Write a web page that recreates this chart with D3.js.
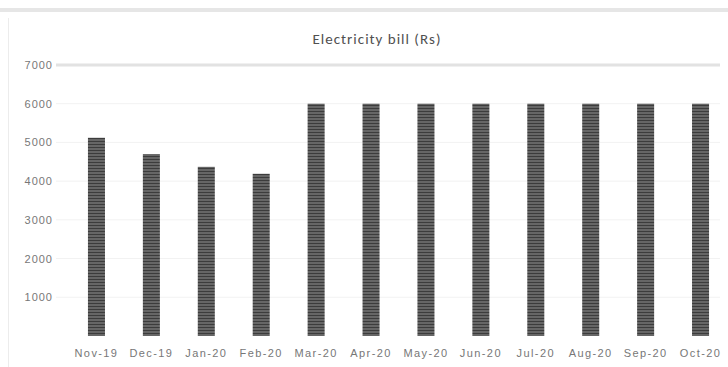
<!DOCTYPE html>
<html>
<head>
<meta charset="utf-8">
<script src="https://cdn.jsdelivr.net/npm/d3@7"></script>
<style>
  html, body { margin: 0; padding: 0; background: #fff; }
  svg { display: block; font-family: Calibri, Carlito, "Liberation Sans", "DejaVu Sans", sans-serif; }
</style>
</head>
<body>
<svg id="chart" width="728" height="367"></svg>
<script>
// Monthly electricity bill (Rs)
const months = ["Nov-19", "Dec-19", "Jan-20", "Feb-20", "Mar-20", "Apr-20",
                "May-20", "Jun-20", "Jul-20", "Aug-20", "Sep-20", "Oct-20"];
const bills = [5120, 4700, 4370, 4190, 6000, 6000, 6000, 6000, 6000, 6000, 6000, 6000];
const yTicks = [1000, 2000, 3000, 4000, 5000, 6000, 7000];
const chartTitle = "Electricity bill (Rs)";

const svg = d3.select("#chart");
const W = 728, H = 367;
const margin = { top: 65, right: 0, bottom: 31, left: 69 };

// frame of the chart area
svg.append("rect").attr("x", 0).attr("y", 8).attr("width", W).attr("height", 4).attr("fill", "#e6e6e6");
svg.append("line").attr("x1", 8.5).attr("x2", 8.5).attr("y1", 18).attr("y2", H).attr("stroke", "#ececec").attr("stroke-width", 1);

// striped bar fill
const defs = svg.append("defs");
const pat = defs.append("pattern").attr("id", "stripes").attr("patternUnits", "userSpaceOnUse")
  .attr("width", 6).attr("height", 3);
pat.append("rect").attr("width", 6).attr("height", 3).attr("fill", "#666");
pat.append("rect").attr("y", 0).attr("width", 6).attr("height", 1).attr("fill", "#3c3c3c");

const x = d3.scaleBand().domain(months).range([margin.left, W - margin.right]).paddingInner(0.69).paddingOuter(0.345);
const y = d3.scaleLinear().domain([0, 7000]).range([H - margin.bottom, margin.top]);

// gridlines
svg.append("g").selectAll("line").data(yTicks).join("line")
  .attr("x1", 56).attr("x2", 720)
  .attr("y1", d => y(d)).attr("y2", d => y(d))
  .attr("stroke", d => d === 7000 ? "#e2e2e2" : "#f2f2f2")
  .attr("stroke-width", d => d === 7000 ? 3 : 1);

// y axis labels
const yAxis = d3.axisLeft(y).tickValues(yTicks).tickSize(0).tickPadding(0).tickFormat(d3.format(""));
svg.append("g").attr("transform", "translate(53,0)").call(yAxis)
  .call(g => g.select(".domain").remove())
  .call(g => g.selectAll("text").attr("fill", "#777").attr("font-size", 11).attr("letter-spacing", 1));

// bars
svg.append("g").selectAll("rect").data(bills).join("rect")
  .attr("x", (d, i) => x(months[i]))
  .attr("width", x.bandwidth())
  .attr("y", d => y(d))
  .attr("height", d => y(0) - y(d))
  .attr("fill", "url(#stripes)");

// x axis labels
const xAxis = d3.axisBottom(x).tickSize(0).tickPadding(0);
svg.append("g").attr("transform", `translate(0,${H - 14})`).call(xAxis)
  .call(g => g.select(".domain").remove())
  .call(g => g.selectAll("text").attr("fill", "#777").attr("font-size", 11)
    .attr("letter-spacing", 1.4).attr("dy", "0.35em"));

// title
svg.append("text").attr("x", 377).attr("y", 44).attr("text-anchor", "middle")
  .attr("font-size", 15).attr("letter-spacing", 1).attr("fill", "#505050").text(chartTitle);
</script>
</body>
</html>
